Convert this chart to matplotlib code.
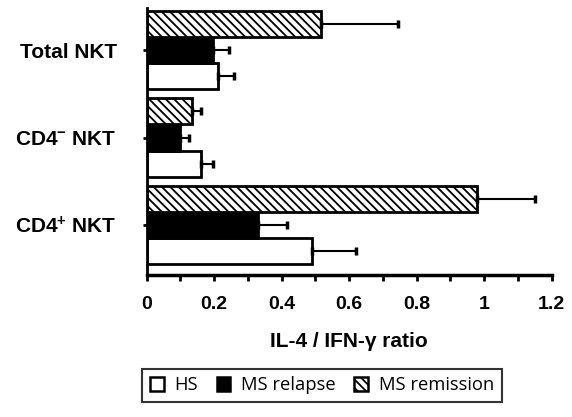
import matplotlib
matplotlib.use("Agg")
import matplotlib.pyplot as plt
from matplotlib.patches import Patch
from matplotlib.ticker import MultipleLocator
import numpy as np

plt.rcParams['font.family'] = ['Liberation Sans', 'DejaVu Sans']
plt.rcParams['mathtext.fontset'] = 'custom'
plt.rcParams['mathtext.rm'] = 'Liberation Sans:bold'
plt.rcParams['mathtext.default'] = 'rm'
plt.rcParams['hatch.linewidth'] = 1.3

# Data (bottom to top)
groups = [r"CD4$^{+}$ NKT", r"CD4$^{-}$ NKT", "Total NKT"]
hs = [0.49, 0.16, 0.21]
hs_err = [0.13, 0.035, 0.05]
relapse = [0.33, 0.10, 0.195]
relapse_err = [0.085, 0.025, 0.05]
remission = [0.98, 0.135, 0.515]
remission_err = [0.17, 0.025, 0.23]
series_names = ["HS", "MS relapse", "MS remission"]
xticks = [0, 0.2, 0.4, 0.6, 0.8, 1, 1.2]
xtick_labels = ["0", "0.2", "0.4", "0.6", "0.8", "1", "1.2"]

fig = plt.figure(figsize=(5.72, 4.17), dpi=100)
ax = fig.add_axes([0.2565, 0.3405, 0.708, 0.640])

y = np.arange(len(groups))
h = 0.3
styles = [
    dict(values=hs, err=hs_err, offset=-h, fc='white', hatch=None),
    dict(values=relapse, err=relapse_err, offset=0.0, fc='black', hatch=None),
    dict(values=remission, err=remission_err, offset=h, fc='white', hatch='\\\\\\\\'),
]
for s in styles:
    ypos = y + s['offset']
    ax.barh(ypos, s['values'], height=h, color=s['fc'], edgecolor='black',
            linewidth=2, hatch=s['hatch'], zorder=2)
    ax.errorbar(s['values'], ypos, xerr=[np.zeros(len(groups)), s['err']],
                fmt='none', ecolor='black', elinewidth=1.5, capsize=3,
                capthick=2.5, zorder=3)

ax.set_xlim(0, 1.2)
ax.set_ylim(-0.571, 2.48)
ax.set_xticks(xticks)
ax.set_xticklabels(xtick_labels, fontsize=14, fontweight='bold')
ax.xaxis.set_minor_locator(MultipleLocator(0.1))
ax.set_yticks(y)
ax.set_yticklabels(groups, fontsize=15, fontweight='bold')
ax.tick_params(axis='x', which='both', length=4, width=2, direction='out', pad=11)
ax.tick_params(axis='y', length=3, width=2, pad=18.5)
for sp in ['top', 'right']:
    ax.spines[sp].set_visible(False)
ax.spines['left'].set_linewidth(2)
ax.spines['bottom'].set_linewidth(2.5)
ax.set_xlabel("IL-4 / IFN-γ ratio", fontsize=15, fontweight='bold', labelpad=14)

handles = [
    Patch(facecolor='white', edgecolor='black', linewidth=1.8),
    Patch(facecolor='black', edgecolor='black', linewidth=1.8),
    Patch(facecolor='white', edgecolor='black', linewidth=1.8, hatch='\\\\\\\\'),
]
leg = fig.legend(handles, series_names, loc='center', bbox_to_anchor=(0.563, 0.076),
                 ncol=3, frameon=True, fancybox=False,
                 prop={'family': 'Open Sans', 'size': 13.2},
                 handlelength=0.75, handleheight=0.75, handletextpad=0.6,
                 columnspacing=1.0, borderpad=0.4, borderaxespad=0)
leg.get_frame().set_edgecolor('black')
leg.get_frame().set_linewidth(1.5)

fig.savefig("out.png", dpi=100)
